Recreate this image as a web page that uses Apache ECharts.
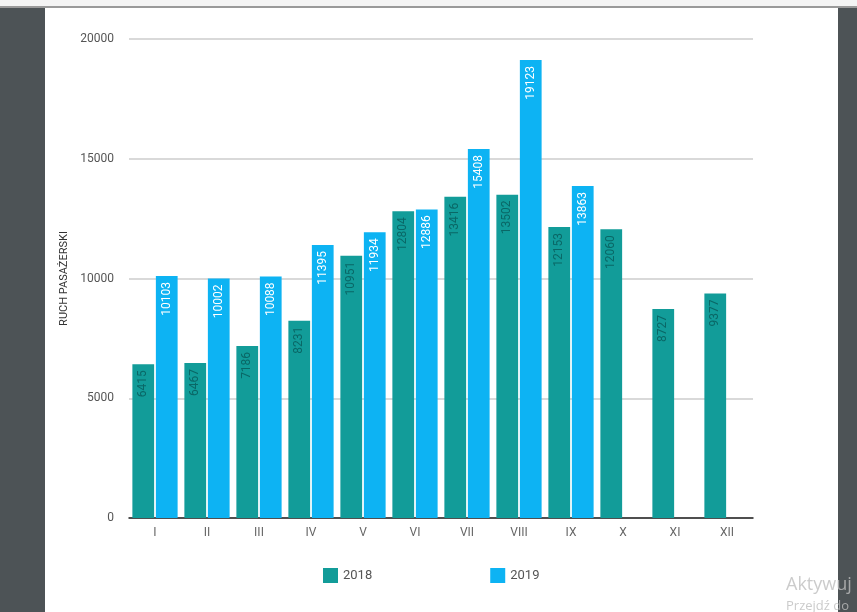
<!DOCTYPE html>
<html><head><meta charset="utf-8">
<script src="https://cdn.jsdelivr.net/npm/echarts@6/dist/echarts.min.js"></script>
<style>html,body{margin:0;padding:0;background:#fff}#c{width:857px;height:612px}</style>
</head><body><div id="c"></div>
<script>
const categories = ['I','II','III','IV','V','VI','VII','VIII','IX','X','XI','XII'];
const seriesNames = ['2018','2019'];
const values2018 = [6415, 6467, 7186, 8231, 10951, 12804, 13416, 13502, 12153, 12060, 8727, 9377];
const values2019 = [10103, 10002, 10088, 11395, 11934, 12886, 15408, 19123, 13863, null, null, null];
const yTicks = [0, 5000, 10000, 15000, 20000];

const chart = echarts.init(document.getElementById('c'));
const labelBase = {show: true, position: 'insideTop', distance: 6, rotate: 90, align: 'right', verticalAlign: 'middle', fontFamily: 'Roboto', fontSize: 12};
chart.setOption({
  animation: false,
  textStyle: {fontFamily: 'Roboto'},
  grid: {left: 129, right: 104, top: 39, bottom: 94, containLabel: false},
  legend: {data: seriesNames, bottom: 24, left: 318, itemGap: 118, itemWidth: 15, itemHeight: 15, icon: 'rect',
    textStyle: {fontSize: 13, color: '#555', fontFamily: 'Roboto'}},
  xAxis: {type: 'category', data: categories,
    axisLine: {lineStyle: {color: '#222', width: 1.5}}, axisTick: {show: false},
    axisLabel: {color: '#666', fontSize: 12, margin: 9}},
  yAxis: {type: 'value', min: yTicks[0], max: yTicks[yTicks.length-1], interval: 5000,
    name: 'RUCH PASAŻERSKI', nameLocation: 'middle', nameGap: 50, nameRotate: 90,
    nameTextStyle: {fontSize: 11, color: '#333'},
    axisLine: {show: false}, axisTick: {show: false},
    axisLabel: {color: '#555', fontSize: 12, margin: 15, formatter: v => String(v)},
    splitLine: {lineStyle: {color: '#cccccc', width: 1.5}}},
  series: [
    {name: seriesNames[0], type: 'bar', data: values2018, barGap: '8%', barCategoryGap: '13%',
      itemStyle: {color: '#129c99'}, label: Object.assign({}, labelBase, {color: '#0a6766'})},
    {name: seriesNames[1], type: 'bar', data: values2019,
      itemStyle: {color: '#0db3f3'}, label: Object.assign({}, labelBase, {color: '#ffffff'})}
  ],
  graphic: [
    {type: 'rect', left: 0, top: 0, shape: {width: 45, height: 612}, style: {fill: '#4d5356'}, z: 100},
    {type: 'rect', left: 838, top: 0, shape: {width: 19, height: 612}, style: {fill: '#4d5356'}, z: 100},
    {type: 'rect', left: 0, top: 0, shape: {width: 857, height: 6}, style: {fill: '#f4f4f4'}, z: 101},
    {type: 'rect', left: 0, top: 6, shape: {width: 857, height: 2}, style: {fill: '#9a9a9a'}, z: 101},
    {type: 'text', left: 786, top: 576, style: {text: 'Aktywuj', fontSize: 18, fill: 'rgba(190,190,190,0.8)', fontFamily: 'Open Sans'}, z: 102},
    {type: 'text', left: 786, top: 600, style: {text: 'Przejdź do', fontSize: 13, fill: 'rgba(190,190,190,0.8)', fontFamily: 'Open Sans'}, z: 102}
  ]
});
</script></body></html>
